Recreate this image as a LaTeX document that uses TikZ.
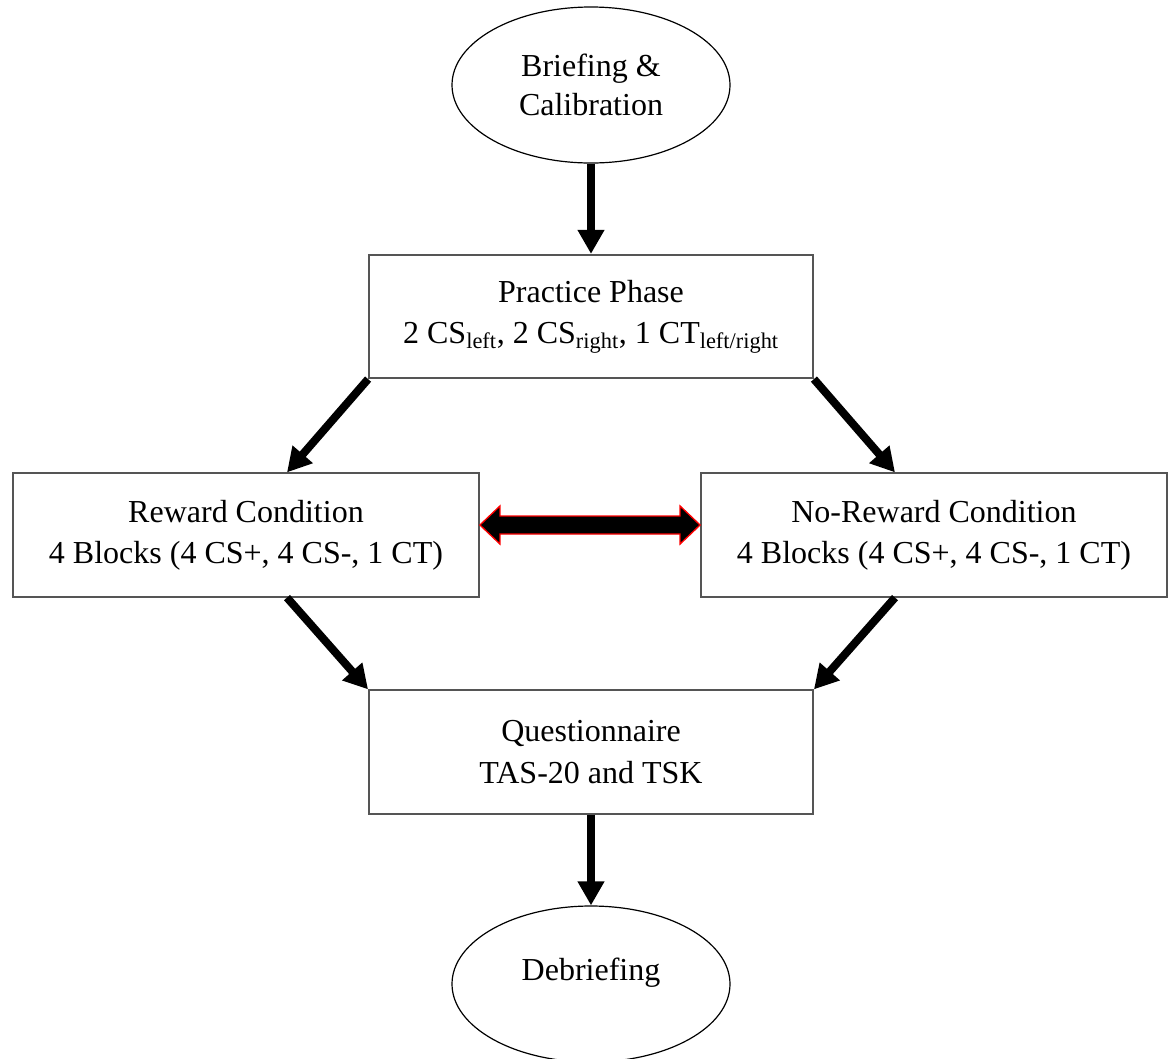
\documentclass[tikz,border=0pt]{standalone}
\usepackage{fontspec}
\setmainfont{Liberation Serif}
\usetikzlibrary{shapes.geometric,arrows.meta,calc}

\begin{document}
\begin{tikzpicture}[x=0.75pt,y=0.75pt,yscale=-1,xscale=1,
  box/.style={draw={rgb, 255:red, 85; green, 85; blue, 85 }, line width=1.4pt, rectangle,
    minimum width=333pt, minimum height=92.5pt, inner sep=0pt, align=center,
    font=\fontsize{24}{31}\selectfont},
  widebox/.style={box, minimum width=349.5pt},
  oval/.style={draw=black, line width=0.9pt, ellipse, minimum width=208.5pt,
    minimum height=117pt, inner sep=0pt, align=center, font=\fontsize{24}{29}\selectfont},
  flow/.style={line width=6pt, -{Triangle[length=18pt,width=19pt]}},
  linkarrow/.style={fill=black, draw=red, line width=1pt, line join=miter}
]
\useasboundingbox (0,0) rectangle (1168,1058);

%Shape: Ellipse
\node [oval] (brief) at (591,85) {Briefing \&\\Calibration};
%Shape: Rectangle
\node [box] (practice) at (591,316.5) {Practice Phase\\2 CS\textsubscript{left}, 2 CS\textsubscript{right}, 1 CT\textsubscript{left/right}};
%Shape: Rectangle
\node [widebox] (reward) at (246,535) {Reward Condition\\4 Blocks (4 CS+, 4 CS-, 1 CT)};
%Shape: Rectangle
\node [widebox] (noreward) at (934,535) {No-Reward Condition\\4 Blocks (4 CS+, 4 CS-, 1 CT)};
%Shape: Rectangle
\node [box] (quest) at (591,752) {Questionnaire\\TAS-20 and TSK};
%Shape: Ellipse
\node [oval, text depth=22pt] (debrief) at (591,984) {Debriefing};

%Straight Lines
\draw [flow] (brief.south) -- (practice.north);
%Straight Lines
\draw [flow] (practice.south west) -- ($(reward.north)+(41,0)$);
%Straight Lines
\draw [flow] (practice.south east) -- ($(noreward.north)+(-39,0)$);
%Straight Lines
\draw [flow] ($(reward.south)+(41,0)$) -- (quest.north west);
%Straight Lines
\draw [flow] ($(noreward.south)+(-39,0)$) -- (quest.north east);
%Straight Lines
\draw [flow] (quest.south) -- (debrief.north);

%Shape: Double Arrow
\coordinate (la) at ($(reward.east)+(0,-10)$);
\coordinate (ra) at ($(noreward.west)+(0,-10)$);
\draw [linkarrow] (la) -- ($(la)+(20,-19)$) -- ($(la)+(20,-9)$) -- ($(ra)+(-20,-9)$)
  -- ($(ra)+(-20,-19)$) -- (ra) -- ($(ra)+(-20,19)$) -- ($(ra)+(-20,9)$)
  -- ($(la)+(20,9)$) -- ($(la)+(20,19)$) -- cycle;

\end{tikzpicture}
\end{document}
